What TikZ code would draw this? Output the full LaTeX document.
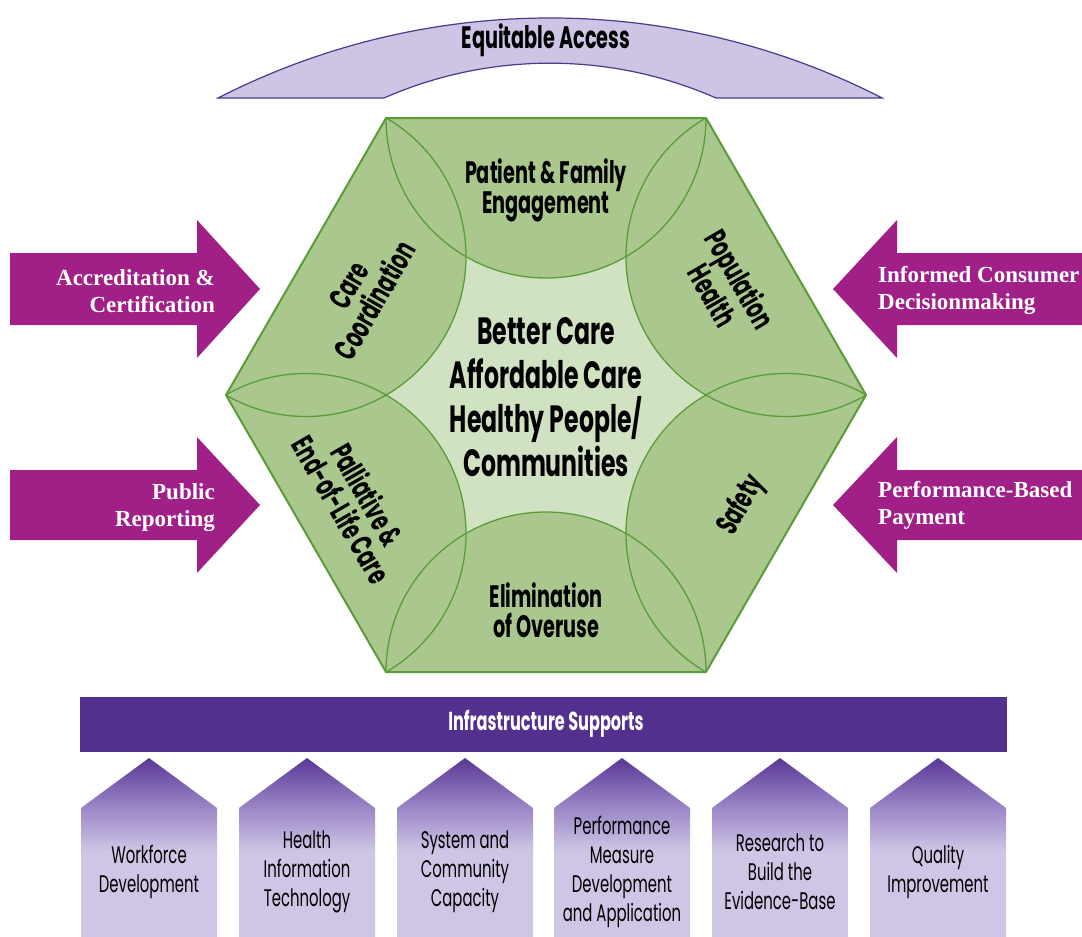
\documentclass[tikz,border=0pt]{standalone}
\usepackage{fontspec}
\usetikzlibrary{calc}
\newfontfamily\cond{Poppins}[FakeStretch=0.62]
\newfontfamily\serifb{Liberation Serif}
\definecolor{hexmid}{RGB}{170,200,142}
\definecolor{hexlight}{RGB}{208,226,193}
\definecolor{hexline}{RGB}{90,156,58}
\definecolor{arrowpurple}{RGB}{160,32,136}
\definecolor{archfill}{RGB}{206,196,228}
\definecolor{archline}{RGB}{75,58,142}
\definecolor{barpurple}{RGB}{82,48,142}
\definecolor{lav}{RGB}{207,198,230}
\definecolor{pmid}{RGB}{150,130,195}
\definecolor{ptop}{RGB}{90,55,150}
\pgfdeclareverticalshading{pentshade}{100bp}{color(0bp)=(lav); color(49bp)=(lav); color(62bp)=(pmid); color(75bp)=(ptop); color(100bp)=(ptop)}
\tikzset{
  petal/.style={font=\cond\bfseries\fontsize{31}{30}\selectfont, align=center, text=black, inner sep=0pt},
  centretext/.style={font=\cond\bfseries\fontsize{38}{44}\selectfont, align=center, text=black, inner sep=0pt},
  penttext/.style={font=\cond\fontsize{24}{29}\selectfont, align=center, text=black, inner sep=0pt},
  arrowshape/.style={fill=arrowpurple},
  arrowlabel/.style={font=\serifb\bfseries\fontsize{23}{27}\selectfont, text=white, inner sep=0pt},
  pentshape/.style={shading=pentshade}
}
\begin{document}
\begin{tikzpicture}[x=1pt,y=-1pt]
\useasboundingbox (0,0) rectangle (1082,937);
\fill[white] (0,0) rectangle (1082,937);

% Equitable Access arch
\fill[archfill, draw=archline, line width=1.2pt]
  (218,98) arc[start angle=242.9, end angle=297.1, radius=729]
  -- (716,98) arc[start angle=293.7, end angle=246.3, radius=413] -- cycle;
\node[petal] (equ) at (546,40) {Equitable Access};

% hexagon
\coordinate (C) at (546,395);
\coordinate (v1) at (866,395);
\coordinate (v2) at (706,118);
\coordinate (v3) at (386,118);
\coordinate (v4) at (226,395);
\coordinate (v5) at (386,672);
\coordinate (v6) at (706,672);
\fill[hexlight] (v1)--(v2)--(v3)--(v4)--(v5)--(v6)--cycle;
\begin{scope}
  \clip (v1)--(v2)--(v3)--(v4)--(v5)--(v6)--cycle;
  \foreach \a/\b in {v1/v2,v2/v3,v3/v4,v4/v5,v5/v6,v6/v1}
    \fill[hexmid] ($(\a)!0.5!(\b)$) circle (160);
  \foreach \a/\b in {v1/v2,v2/v3,v3/v4,v4/v5,v5/v6,v6/v1}
    \draw[hexline, line width=1.3pt] ($(\a)!0.5!(\b)$) circle (160);
\end{scope}
\draw[hexline, line width=2pt, line join=miter] (v1)--(v2)--(v3)--(v4)--(v5)--(v6)--cycle;

% petal labels
\node[petal] (pfe) at (546,190) {Patient \& Family\\Engagement};
\node[petal] (elo) at (546,610) {Elimination\\of Overuse};
\node[petal, rotate=60] (cc) at (362,293) {Care\\Coordination};
\node[petal, rotate=-60] (ph) at (727,287) {Population\\Health};
\node[petal, rotate=-60] (pal) at (355,502) {Palliative \&\\End-of-Life Care};
\node[petal, rotate=60] (saf) at (742,505) {Safety};
\node[centretext] (ctr) at (546,397) {Better Care\\Affordable Care\\Healthy People/\\Communities};

% side arrows
\fill[arrowshape] (10,253)--(197,253)--(197,220)--(260,289)--(197,358)--(197,325)--(10,325)--cycle;
\fill[arrowshape] (10,470)--(197,470)--(197,437)--(260,505)--(197,573)--(197,540)--(10,540)--cycle;
\fill[arrowshape] (1082,253)--(897,253)--(897,220)--(833,289)--(897,358)--(897,325)--(1082,325)--cycle;
\fill[arrowshape] (1082,470)--(897,470)--(897,437)--(833,505)--(897,573)--(897,540)--(1082,540)--cycle;
\node[arrowlabel, align=right, anchor=east] (acc) at (215,291) {Accreditation \&\\Certification};
\node[arrowlabel, align=right, anchor=east] (pub) at (215,508) {Public\\Reporting};
\node[arrowlabel, align=left, anchor=west] (inf) at (878,290) {Informed Consumer\\Decisionmaking};
\node[arrowlabel, align=left, anchor=west] (pbp) at (878,505) {Performance-Based\\Payment};

% infrastructure bar
\fill[barpurple] (80,697) rectangle (1007,752);
\node[font=\cond\bfseries\fontsize{26}{28}\selectfont, text=white, inner sep=0pt] (infra) at (546,724) {Infrastructure Supports};

% pentagons
\foreach \i/\x/\t in {1/149/{Workforce\\Development},
                      2/307/{Health\\Information\\Technology},
                      3/465/{System and\\Community\\Capacity},
                      4/622/{Performance\\Measure\\Development\\and Application},
                      5/780/{Research to\\Build the\\Evidence-Base},
                      6/938/{Quality\\Improvement}} {
  \path[pentshape] (\x-68,937) -- (\x-68,808) -- (\x,758) -- (\x+68,808) -- (\x+68,937) -- cycle;
  \node[penttext] (p\i) at (\x,872) {\t};
}
\end{tikzpicture}
\end{document}
